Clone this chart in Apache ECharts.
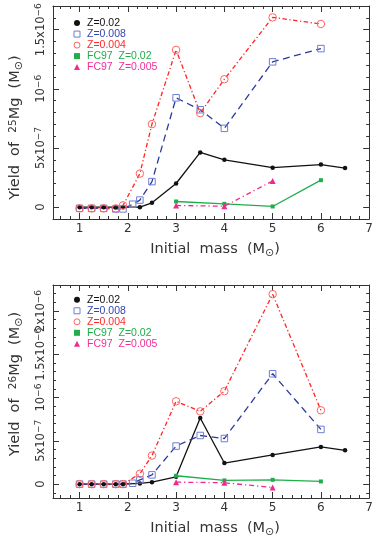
<!DOCTYPE html>
<html>
<head>
<meta charset="utf-8">
<script src="https://cdn.jsdelivr.net/npm/echarts@6/dist/echarts.min.js"></script>
<style>
  html, body { margin: 0; padding: 0; background: #fff; }
  #chart { width: 376px; height: 540px; }
</style>
</head>
<body>
<div id="chart"></div>
<script>
// initial masses (Msun) for each model set
const massZ02 = [1, 1.25, 1.5, 1.75, 1.9, 2.25, 2.5, 3, 3.5, 4, 5, 6, 6.5];
const massZ008 = [1, 1.25, 1.5, 1.75, 1.9, 2.1, 2.25, 2.5, 3, 3.5, 4, 5, 6];
const massZ004 = [1, 1.25, 1.5, 1.75, 1.9, 2.25, 2.5, 3, 3.5, 4, 5, 6];
const massFC02 = [3, 4, 5, 6];
const massFC005 = [3, 4, 5];

// yields of 25Mg, units of 1e-7 Msun
const mg25Z02 = [0, 0, 0, 0, 0, 0, 0.37, 2.0, 4.63, 4.0, 3.34, 3.6, 3.3];
const mg25Z008 = [-0.1, -0.1, -0.1, -0.15, -0.15, 0.25, 0.6, 2.16, 9.24, 8.23, 6.66, 12.28, 13.4];
const mg25Z004 = [-0.1, -0.1, -0.1, -0.1, 0.15, 2.84, 7.02, 13.29, 7.95, 10.81, 16.04, 15.48];
const mg25FC02 = [0.48, 0.28, 0.06, 2.28];
const mg25FC005 = [0.14, 0.08, 2.22];

// yields of 26Mg, units of 1e-7 Msun
const mg26Z02 = [0, 0, 0, 0, 0, 0.08, 0.23, 0.85, 7.64, 2.44, 3.37, 4.3, 3.91];
const mg26Z008 = [0, 0, 0, 0, 0, 0.1, 0.5, 1.07, 4.4, 5.62, 5.27, 12.75, 6.32];
const mg26Z004 = [0, 0, 0, 0, 0, 1.2, 3.3, 9.57, 8.4, 10.74, 21.94, 8.53];
const mg26FC02 = [0.97, 0.43, 0.5, 0.31];
const mg26FC005 = [0.23, 0.16, -0.39];

const seriesNames = ['Z=0.02', 'Z=0.008', 'Z=0.004', 'FC97  Z=0.02', 'FC97  Z=0.005'];
const xTicks = [1, 2, 3, 4, 5, 6, 7];
const yTicks25 = [0, 5, 10, 15];
const yTicks26 = [0, 5, 10, 15, 20];
const yTickText = {
  0: '{m|0}',
  5: '{m|5x10}{e|−7}',
  10: '{m|10}{e|−6}',
  15: '{m|1.5x10}{e|−6}',
  20: '{m|2x10}{e|−6}'
};

const FONT = '"DejaVu Sans", sans-serif';
const LEG_FONT = '"Liberation Sans", Arial, sans-serif';
const INK = '#333';
const X_MIN = 0.45, X_MAX = 7;

const colors = {
  black: '#111',
  blueLine: '#2b3a9c',
  blueSym: '#6e7ed2',
  redLine: '#ff2424',
  redSym: '#ff6464',
  green: '#1fae4a',
  magenta: '#ee2a8e'
};

// tick positions between the labelled ones
function minorTicks(from, to, step, skip) {
  const out = [];
  for (let v = from; v <= to + 1e-9; v += step) {
    const r = Math.round(v * 100) / 100;
    if (Math.abs(r / skip - Math.round(r / skip)) > 1e-6) out.push(r);
  }
  return out;
}

const xMinor = minorTicks(0.6, 6.8, 0.2, 1);

const tickLine = { color: '#333', width: 1 };

const titleRich = {
  t: { fontSize: 14.5, fontFamily: FONT, color: INK, lineHeight: 17, verticalAlign: 'top' },
  p: { fontSize: 10.5, fontFamily: FONT, color: INK, lineHeight: 10, verticalAlign: 'top' },
  s: { fontSize: 11, fontFamily: FONT, color: INK, lineHeight: 9, verticalAlign: 'bottom' }
};

const yLabelStyle = {
  rotate: 90, margin: 5, hideOverlap: false,
  showMinLabel: true, showMaxLabel: true,
  formatter: (v) => yTickText[Math.round(v)],
  rich: {
    m: { fontSize: 11.5, fontFamily: FONT, color: INK, lineHeight: 14 },
    e: { fontSize: 9, fontFamily: FONT, color: INK, lineHeight: 9, verticalAlign: 'top' }
  }
};

function xAxesFor(grid) {
  const base = {
    gridIndex: grid, type: 'value', min: X_MIN, max: X_MAX,
    splitLine: { show: false },
    axisLine: { show: false, onZero: false }
  };
  return [
    Object.assign({}, base, {
      position: 'bottom',
      axisLine: { show: true, onZero: false, lineStyle: tickLine },
      axisTick: { inside: true, length: 6, customValues: xTicks, lineStyle: tickLine },
      axisLabel: { customValues: xTicks, margin: 4, fontSize: 12, color: INK, fontFamily: FONT,
        showMinLabel: true, showMaxLabel: true },
      name: '{t|Initial  mass  (M}{s|⊙}{t|)}',
      nameLocation: 'middle',
      nameGap: 23,
      nameTextStyle: { padding: [0, 0, 0, 8], rich: titleRich }
    }),
    Object.assign({}, base, {
      position: 'bottom',
      axisTick: { inside: true, length: 3, customValues: xMinor, lineStyle: tickLine },
      axisLabel: { show: false }
    }),
    Object.assign({}, base, {
      position: 'top',
      axisLine: { show: true, onZero: false, lineStyle: tickLine },
      axisTick: { inside: true, length: 6, customValues: xTicks, lineStyle: tickLine },
      axisLabel: { show: false }
    }),
    Object.assign({}, base, {
      position: 'top',
      axisTick: { inside: true, length: 3, customValues: xMinor, lineStyle: tickLine },
      axisLabel: { show: false }
    })
  ];
}

function yAxesFor(grid, yMin, yMax, major, isotope, namePad) {
  const minor = minorTicks(Math.ceil(yMin), Math.floor(yMax), 1, 5);
  // labels that collide are split over two stacked axes so none gets dropped
  const labelsA = major.filter((v, i) => i < 4);
  const labelsB = major.filter((v, i) => i >= 4);
  const base = {
    gridIndex: grid, type: 'value', min: yMin, max: yMax,
    splitLine: { show: false },
    axisLine: { show: false, onZero: false }
  };
  return [
    Object.assign({}, base, {
      position: 'left',
      axisLine: { show: true, onZero: false, lineStyle: tickLine },
      axisTick: { inside: true, length: 6, customValues: major, lineStyle: tickLine },
      axisLabel: Object.assign({ customValues: labelsA }, yLabelStyle),
      name: '{t|Yield  of  }{p|' + isotope + '}{t|Mg  (M}{s|⊙}{t|)}',
      nameLocation: 'middle',
      nameRotate: 90,
      nameGap: 28,
      nameMoveOverlap: false,
      nameTextStyle: { padding: namePad, rich: titleRich }
    }),
    Object.assign({}, base, {
      position: 'left',
      axisTick: { inside: true, length: 3, customValues: minor, lineStyle: tickLine },
      axisLabel: labelsB.length
        ? Object.assign({ customValues: labelsB }, yLabelStyle)
        : { show: false }
    }),
    Object.assign({}, base, {
      position: 'right',
      axisLine: { show: true, onZero: false, lineStyle: tickLine },
      axisTick: { inside: true, length: 6, customValues: major, lineStyle: tickLine },
      axisLabel: { show: false }
    }),
    Object.assign({}, base, {
      position: 'right',
      axisTick: { inside: true, length: 3, customValues: minor, lineStyle: tickLine },
      axisLabel: { show: false }
    })
  ];
}

const zip = (xs, ys) => xs.map((x, i) => [x, ys[i]]);

function panelSeries(axisIdx, ys) {
  const common = { type: 'line', xAxisIndex: axisIdx, yAxisIndex: axisIdx, animation: false, clip: true };
  return [
    Object.assign({}, common, {
      name: seriesNames[0], data: zip(massZ02, ys[0]),
      symbol: 'circle', symbolSize: 4.5,
      itemStyle: { color: colors.black },
      lineStyle: { color: colors.black, width: 1.3 }
    }),
    Object.assign({}, common, {
      name: seriesNames[1], data: zip(massZ008, ys[1]),
      symbol: 'rect', symbolSize: 6.5,
      itemStyle: { color: 'rgba(0,0,0,0)', borderColor: colors.blueSym, borderWidth: 1 },
      lineStyle: { color: colors.blueLine, width: 1.3, type: [7, 4.5] }
    }),
    Object.assign({}, common, {
      name: seriesNames[2], data: zip(massZ004, ys[2]),
      symbol: 'circle', symbolSize: 7.5,
      itemStyle: { color: 'rgba(0,0,0,0)', borderColor: colors.redSym, borderWidth: 1 },
      lineStyle: { color: colors.redLine, width: 1.3, type: [4.5, 2.5, 1.2, 2.5] }
    }),
    Object.assign({}, common, {
      name: seriesNames[3], data: zip(massFC02, ys[3]),
      symbol: 'rect', symbolSize: 4,
      itemStyle: { color: colors.green },
      lineStyle: { color: colors.green, width: 1.3 }
    }),
    Object.assign({}, common, {
      name: seriesNames[4], data: zip(massFC005, ys[4]),
      symbol: 'triangle', symbolSize: 6,
      itemStyle: { color: colors.magenta },
      lineStyle: { color: colors.magenta, width: 1.3, type: [5, 3, 1.2, 3] }
    })
  ];
}

const legendData = [
  { name: seriesNames[0], icon: 'circle', itemStyle: { color: colors.black, borderWidth: 0 }, textStyle: { color: '#111' } },
  { name: seriesNames[1], icon: 'rect', itemStyle: { color: 'rgba(0,0,0,0)', borderColor: colors.blueSym, borderWidth: 1 }, textStyle: { color: '#3546ae' } },
  { name: seriesNames[2], icon: 'circle', itemStyle: { color: 'rgba(0,0,0,0)', borderColor: colors.redSym, borderWidth: 1 }, textStyle: { color: '#ff2a2a' } },
  { name: seriesNames[3], icon: 'rect', itemStyle: { color: colors.green, borderWidth: 0 }, textStyle: { color: '#1fae4a' } },
  { name: seriesNames[4], icon: 'triangle', itemStyle: { color: colors.magenta, borderWidth: 0 }, textStyle: { color: '#f0309a' } }
];

function legendAt(top) {
  return {
    top: top, left: 73.5, orient: 'vertical', padding: 0,
    itemGap: 0, itemWidth: 6, itemHeight: 6,
    selectedMode: false,
    textStyle: { fontSize: 10.5, lineHeight: 9.3, fontFamily: LEG_FONT, padding: [0, 0, 0, 2] },
    data: legendData
  };
}

const option = {
  backgroundColor: '#fff',
  animation: false,
  grid: [
    { left: 49, right: 3.5, top: 6, height: 213 },
    { left: 49, right: 3.5, top: 285, height: 213 }
  ],
  legend: [legendAt(17.6), legendAt(294.3)],
  xAxis: xAxesFor(0).concat(xAxesFor(1)),
  yAxis: yAxesFor(0, -1, 17, yTicks25, '25', [0, 30, 0, 0])
    .concat(yAxesFor(1, -1.6, 23, yTicks26, '26', [0, 0, 0, 15])),
  series: panelSeries(0, [mg25Z02, mg25Z008, mg25Z004, mg25FC02, mg25FC005])
    .concat(panelSeries(4, [mg26Z02, mg26Z008, mg26Z004, mg26FC02, mg26FC005]))
};

const chart = echarts.init(document.getElementById('chart'));
chart.setOption(option);
</script>
</body>
</html>
